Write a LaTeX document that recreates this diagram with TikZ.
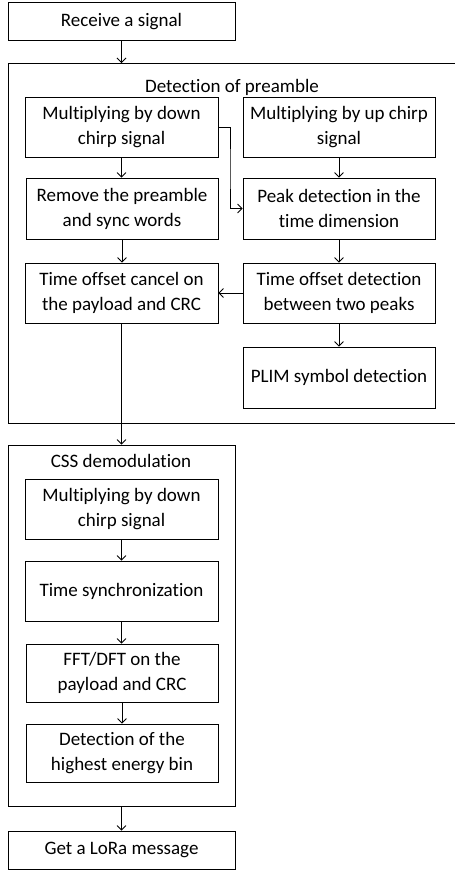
\documentclass[tikz,border=0pt]{standalone}
\usepackage{fontspec}
\setmainfont{Carlito}[RawFeature=-liga]
\usetikzlibrary{arrows.meta}
\begin{document}
\begin{tikzpicture}[x=1pt,y=1pt,
  every node/.style={font=\fontsize{19}{25}\selectfont},
  stepbox/.style={draw, line width=0.8pt, rectangle, align=center, inner sep=0pt},
  flow/.style={draw, line width=0.8pt, -{Straight Barb[length=4.5pt,width=9pt,line width=0.8pt]}},
  frame/.style={draw, line width=0.8pt}
]
\useasboundingbox (0,0) rectangle (455,-873);

% top and bottom terminals
\node[stepbox, minimum width=227pt, minimum height=38pt] (recv) at (121.5,-21.5) {Receive a signal};
\node[stepbox, minimum width=227pt, minimum height=38pt] (getmsg) at (121.5,-850) {Get a LoRa message};

% preamble detection frame (open on the right)
\draw[frame] (462,-63) -- (8,-63) -- (8,-423) -- (462,-423);
\coordinate (preTop) at (121.5,-63);
\node (pretitle) at (232,-87) {Detection of preamble};

\node[stepbox, minimum width=193pt, minimum height=60pt] (downA) at (121.5,-127) {Multiplying by down\\chirp signal};
\node[stepbox, minimum width=192pt, minimum height=60pt] (upB) at (339,-127) {Multiplying by up chirp\\signal};
\node[stepbox, minimum width=192pt, minimum height=61pt] (remove) at (122,-208.5) {Remove the preamble\\and sync words};
\node[stepbox, minimum width=192pt, minimum height=61pt] (peak) at (339,-208.5) {Peak detection in the\\time dimension};
\node[stepbox, minimum width=193pt, minimum height=60pt] (cancel) at (121.5,-293) {Time offset cancel on\\the payload and CRC};
\node[stepbox, minimum width=192pt, minimum height=60pt] (offset) at (339,-293) {Time offset detection\\between two peaks};
\node[stepbox, minimum width=192pt, minimum height=61pt] (plim) at (339,-377.5) {PLIM symbol detection};

% CSS demodulation frame
\node[draw, line width=0.8pt, minimum width=227pt, minimum height=361pt, inner sep=0pt] (css) at (121.5,-625.5) {};
\node (csstitle) at (121,-461) {CSS demodulation};
\node[stepbox, minimum width=193pt, minimum height=60pt] (downH) at (121.5,-509) {Multiplying by down\\chirp signal};
\node[stepbox, minimum width=193pt, minimum height=60pt] (sync) at (121.5,-591) {Time synchronization};
\node[stepbox, minimum width=192pt, minimum height=58pt] (fft) at (122,-673) {FFT/DFT on the\\payload and CRC};
\node[stepbox, minimum width=192pt, minimum height=58pt] (bin) at (122,-753) {Detection of the\\highest energy bin};

% connectors
\draw[flow] (recv.south) -- (preTop);
\draw[flow] (downA.south) -- (downA.south |- remove.north);
\draw[flow] (downA.east) -| (230,-170) |- (peak.west);
\draw[flow] (upB) -- (peak);
\draw[flow] (remove.south) -- (remove.south |- cancel.north);
\draw[flow] (peak) -- (offset);
\draw[flow] (offset.west) -- (cancel.east);
\draw[flow] (offset) -- (plim);
\draw[flow] (cancel.south) -- (cancel.south |- css.north);
\draw[flow] (downH.south) -- (downH.south |- sync.north);
\draw[flow] (sync.south) -- (sync.south |- fft.north);
\draw[flow] (fft.south) -- (fft.south |- bin.north);
\draw[flow] (css.south) -- (getmsg.north);
\end{tikzpicture}
\end{document}
